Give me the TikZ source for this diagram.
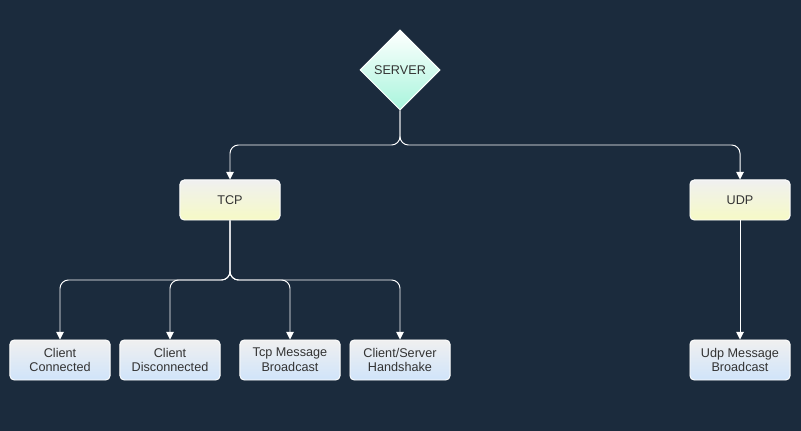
\documentclass[tikz,border=0pt]{standalone}
\usepackage{fontspec}
\setmainfont{Liberation Sans}
\usetikzlibrary{arrows.meta, positioning, shapes.geometric}
\definecolor{canvas}{HTML}{1B2B3D}
\definecolor{inktext}{HTML}{333333}
\definecolor{mint}{HTML}{A8F5DC}
\definecolor{lemon}{HTML}{F6FAC6}
\definecolor{sky}{HTML}{D0E4FA}

\begin{document}
\begin{tikzpicture}[
  x=0.025cm, y=-0.025cm,
  hub/.style={diamond, draw=white, line width=0.7pt, top color=white, bottom color=mint,
              minimum width=2cm, minimum height=2cm, inner sep=0pt,
              font=\fontsize{9}{10.5}\selectfont, text=inktext},
  proto/.style={draw=white, line width=0.7pt, top color=black!6, bottom color=lemon,
                rounded corners=3pt, minimum width=2.5cm, minimum height=1cm,
                font=\fontsize{9}{10.5}\selectfont, text=inktext, align=center},
  leaf/.style={draw=white, line width=0.7pt, top color=black!6, bottom color=sky,
               rounded corners=3pt, minimum width=2.5cm, minimum height=1cm,
               font=\fontsize{9}{10.5}\selectfont, text=inktext, align=center},
  arr/.style={-{Triangle[length=5.5pt, width=5.5pt]}, draw=white, line width=0.7pt,
              rounded corners=6pt}
]
  % background
  \fill[canvas] (0,0) rectangle (801,431);

  % top level
  \node[hub] (server) at (400,70) {SERVER};

  % protocols
  \node[proto] (tcp) at (230,200) {TCP};
  \node[proto] (udp) at (740,200) {UDP};

  % events
  \node[leaf] (conn) at (60,360) {Client\\Connected};
  \node[leaf] (disc) at (170,360) {Client\\Disconnected};
  \node[leaf] (tcpmsg) at (290,360) {Tcp Message\\Broadcast};
  \node[leaf] (shake) at (400,360) {Client/Server\\Handshake};
  \node[leaf] (udpmsg) at (740,360) {Udp Message\\Broadcast};

  \coordinate (sj) at (400,145);
  \coordinate (tj) at (230,280);

  \draw[arr] (server.south) -- (sj) -| (tcp.north);
  \draw[arr] (server.south) -- (sj) -| (udp.north);
  \draw[arr] (tcp.south) -- (tj) -| (conn.north);
  \draw[arr] (tcp.south) -- (tj) -| (disc.north);
  \draw[arr] (tcp.south) -- (tj) -| (tcpmsg.north);
  \draw[arr] (tcp.south) -- (tj) -| (shake.north);
  \draw[arr] (udp.south) -- (udpmsg.north);
\end{tikzpicture}
\end{document}
